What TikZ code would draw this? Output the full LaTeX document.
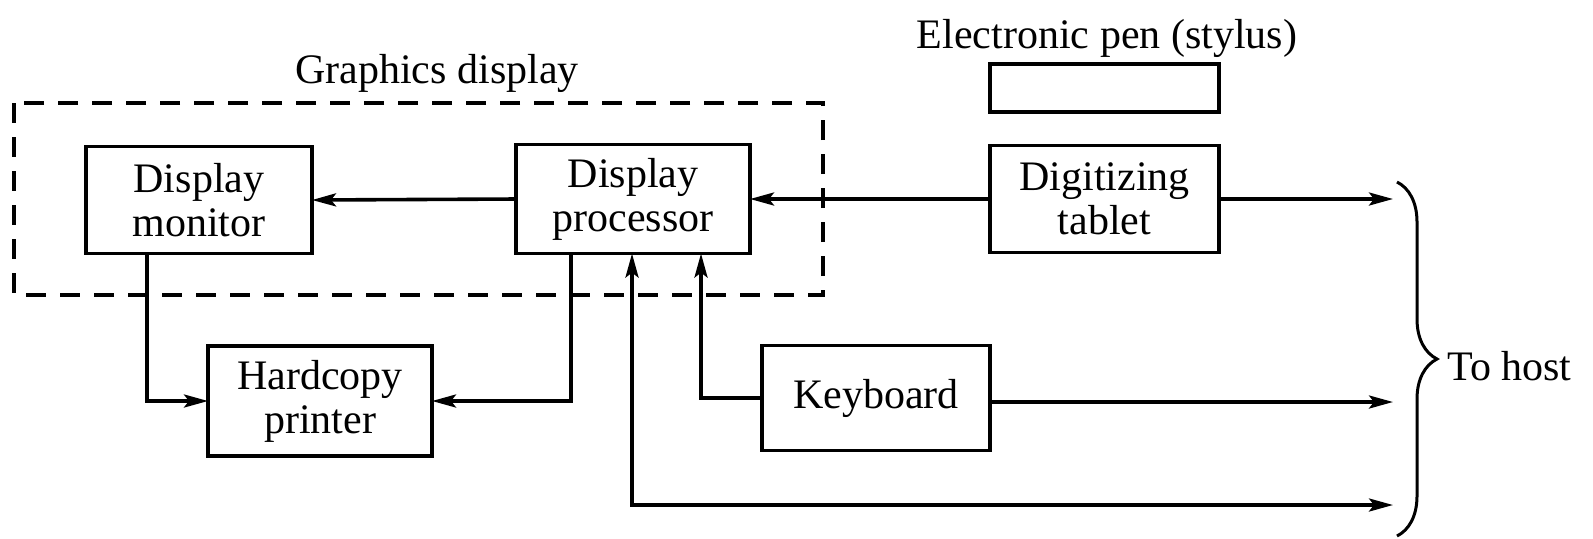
\documentclass[tikz,border=0pt]{standalone}
\usepackage{fontspec}
\setmainfont{Liberation Serif}
\usetikzlibrary{arrows.meta,decorations.pathreplacing}
\tikzset{
  blk/.style={draw, line width=1.8pt, inner sep=0pt, outer sep=0pt, align=center,
    font=\fontsize{21}{22}\selectfont},
  lbl/.style={inner sep=0pt, font=\fontsize{21}{22}\selectfont},
  tip/.style={Stealth[length=12pt,width=6.5pt,inset=2.5pt]},
  arr/.style={line width=1.8pt, -{Stealth[length=12pt,width=6.5pt,inset=2.5pt]}},
  biarr/.style={line width=1.8pt, {Stealth[length=12pt,width=6.5pt,inset=2.5pt]}-{Stealth[length=12pt,width=6.5pt,inset=2.5pt]}},
  grp/.style={draw, line width=1.8pt, dash pattern=on 10pt off 7pt},
}
\begin{document}
\begin{tikzpicture}[x=0.5pt, y=-0.5pt]
\useasboundingbox (0,0) rectangle (1593,538);

% graphics display group
\draw[grp] (14,103) rectangle (823,295);
\node[lbl, anchor=base] (gtitle) at (437,83) {Graphics display};

% blocks
\node[blk, minimum width=113pt, minimum height=53.5pt] (mon)  at (199,200)    {Display\\monitor};
\node[blk, minimum width=117pt, minimum height=54.5pt] (proc) at (633,199)    {Display\\processor};
\node[blk, minimum width=114.5pt, minimum height=53.5pt] (tab) at (1104.5,199) {Digitizing\\tablet};
\node[blk, minimum width=114.5pt, minimum height=24pt] (pen)  at (1104.5,88) {};
\node[lbl, anchor=base] (pentitle) at (1107,48) {Electronic pen (stylus)};
\node[blk, minimum width=112pt, minimum height=55pt] (hard) at (320,401)  {Hardcopy\\printer};
\node[blk, minimum width=114pt, minimum height=52.5pt] (key) at (876,398) {Keyboard};

% column and host coordinates
\coordinate (c1) at (147,0);
\coordinate (c2) at (571,0);
\coordinate (c3) at (632,0);
\coordinate (c4) at (701,0);
\coordinate (h1) at (1393,199);
\coordinate (h2) at (1393,402);
\coordinate (h3) at (1393,505);

% connectors
\draw[arr] (proc.west) -- (mon.east);
\draw[arr] (tab.west) -- (proc.east);
\draw[arr] (tab.east) -- (h1);
\draw[arr] (mon.south -| c1) |- (hard.west);
\draw[arr] (proc.south -| c2) |- (hard.east);
\draw[arr] (key.west) -| (proc.south -| c4);
\draw[arr] (key.east |- h2) -- (h2);
\draw[biarr] (h3) -| (proc.south -| c3);

% brace to host
\coordinate (bt) at (1397,182);
\coordinate (bb) at (1397,536);
\draw[line width=1.5pt, decorate, decoration={brace, amplitude=20pt}] (bt) -- (bb);
\node[lbl, anchor=base west] (host) at (1447,380) {To host};
\end{tikzpicture}
\end{document}
